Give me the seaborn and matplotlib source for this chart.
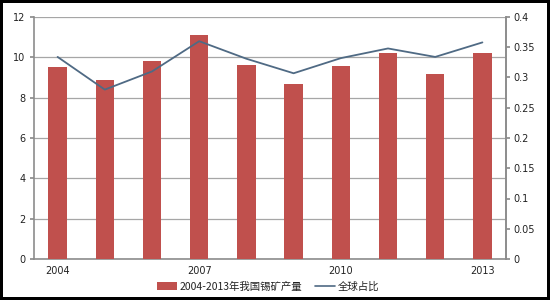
import numpy as np
import pandas as pd
import matplotlib
matplotlib.use("Agg")
import matplotlib.pyplot as plt
import seaborn as sns
from matplotlib.lines import Line2D
from matplotlib.patches import Patch

years = ["2004", "2005", "2006", "2007", "2008", "2009", "2010", "2011", "2012", "2013"]
output = [9.5, 8.9, 9.8, 11.1, 9.6, 8.7, 9.55, 10.2, 9.15, 10.2]
share = [0.334, 0.280, 0.310, 0.360, 0.331, 0.307, 0.332, 0.348, 0.334, 0.358]
shown_year_labels = ["2004", "2007", "2010", "2013"]
left_ticks = [0, 2, 4, 6, 8, 10, 12]
right_ticks = [0, 0.05, 0.1, 0.15, 0.2, 0.25, 0.3, 0.35, 0.4]
bar_label = "2004-2013年我国锡矿产量"
line_label = "全球占比"

sns.set_theme(style="white")
plt.rcParams['font.family'] = ['DejaVu Sans', 'Noto Sans CJK SC']

bar_color = "#C0504D"
line_color = "#4F6A84"
grid_color = "#A6A6A6"
axis_color = "#8C8C8C"

df = pd.DataFrame({"year": years, "output": output, "share": share})

fig = plt.figure(figsize=(5.5, 3.0), dpi=100)
fig.patch.set_facecolor("white")
fig.patch.set_edgecolor("black")
fig.patch.set_linewidth(3)

ax = fig.add_axes([34 / 550, 41 / 300, (506 - 34) / 550, (259 - 17) / 300])
sns.barplot(data=df, x="year", y="output", color=bar_color, saturation=1,
            width=0.39, linewidth=0, ax=ax, zorder=3)
ax.set_xlim(-0.5, len(years) - 0.5)
ax.set_ylim(0, 12)
ax.set_yticks(left_ticks)
ax.set_yticklabels([str(t) for t in left_ticks], fontsize=7, color="#222222")
ax.yaxis.grid(True, color=grid_color, linewidth=0.9, zorder=0)
ax.set_axisbelow(True)

ax.set_xticks([years.index(y) for y in shown_year_labels])
ax.set_xticklabels(shown_year_labels, fontsize=7, color="#222222")
ax.set_xticks(np.arange(-0.5, len(years), 1.0), minor=True)
ax.tick_params(axis="x", which="major", length=0, pad=5)
ax.tick_params(axis="x", which="minor", length=3, color=axis_color, direction="out")
ax.tick_params(axis="y", length=3, color=axis_color, direction="out", pad=3)
ax.set_xlabel("")
ax.set_ylabel("")
for side in ["left", "bottom", "right"]:
    ax.spines[side].set_color(axis_color)
    ax.spines[side].set_linewidth(1.2)
ax.spines["top"].set_visible(False)

ax2 = ax.twinx()
sns.lineplot(x=np.arange(len(years)), y=df["share"], color=line_color,
             linewidth=1.3, ax=ax2, zorder=4)
ax2.set_ylim(0, 0.4)
ax2.set_yticks(right_ticks)
ax2.set_yticklabels([f"{t:g}" for t in right_ticks], fontsize=7, color="#222222")
ax2.tick_params(axis="y", length=3, color=axis_color, direction="out", pad=2)
ax2.set_ylabel("")
ax2.spines["right"].set_color(axis_color)
ax2.spines["right"].set_linewidth(1.2)
for side in ["left", "bottom", "top"]:
    ax2.spines[side].set_visible(False)
ax2.set_xlim(-0.5, len(years) - 0.5)

handles = [Patch(facecolor=bar_color, edgecolor="none"),
           Line2D([0], [0], color=line_color, linewidth=1.2)]
leg = fig.legend(handles, [bar_label, line_label], loc="center",
                 bbox_to_anchor=(0.487, 0.045), ncol=2, frameon=False,
                 fontsize=7.5, handlelength=2.0, handleheight=0.7,
                 columnspacing=1.2, handletextpad=0.2)
for t in leg.get_texts():
    t.set_family(['Noto Sans CJK SC', 'DejaVu Sans'])
    t.set_color("#222222")

fig.savefig("out.png", dpi=100, facecolor=fig.get_facecolor(),
            edgecolor=fig.get_edgecolor())
